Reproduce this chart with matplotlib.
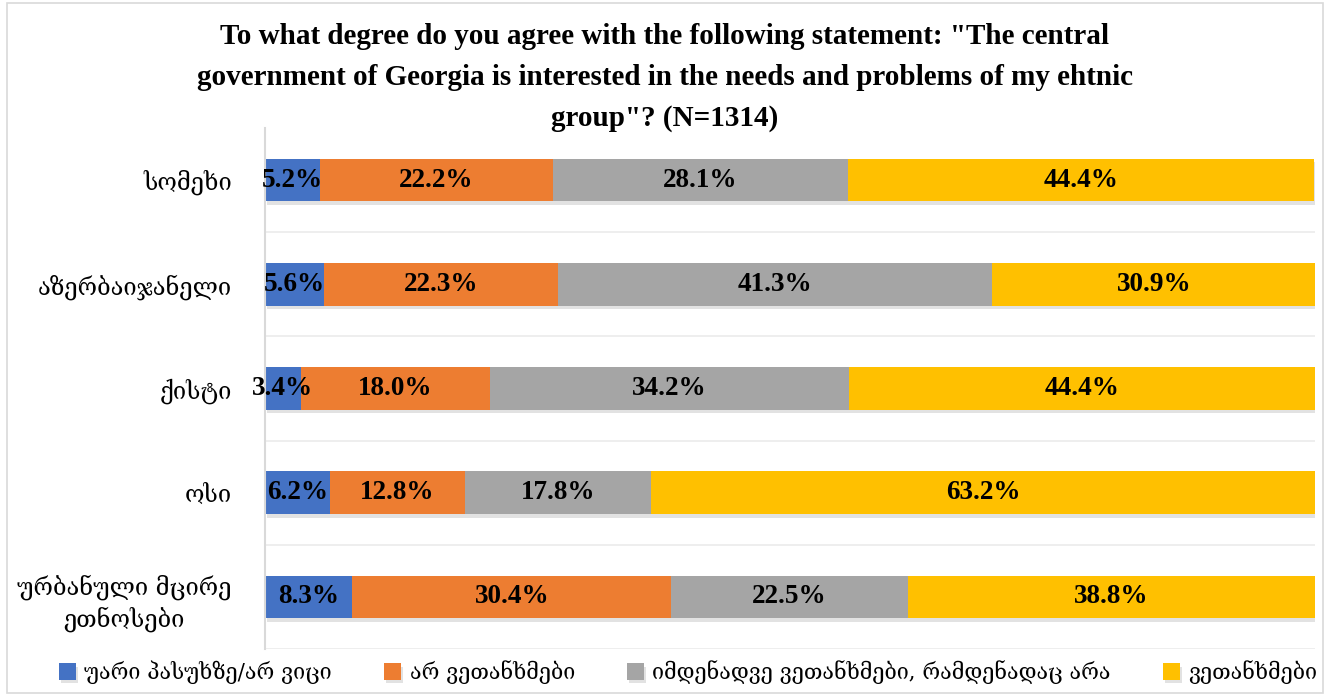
import matplotlib
matplotlib.use("Agg")
import matplotlib.pyplot as plt
import matplotlib.patheffects as pe
from matplotlib.patches import Rectangle

categories = ["სომეხი", "აზერბაიჯანელი", "ქისტი", "ოსი", "ურბანული მცირე\nეთნოსები"]
series_names = ["უარი პასუხზე/არ ვიცი", "არ ვეთანხმები",
                "იმდენადვე ვეთანხმები, რამდენადაც არა", "ვეთანხმები"]
refuse = [5.2, 5.6, 3.4, 6.2, 8.3]
disagree = [22.2, 22.3, 18.0, 12.8, 30.4]
neutral = [28.1, 41.3, 34.2, 17.8, 22.5]
agree = [44.4, 30.9, 44.4, 63.2, 38.8]
title = ('To what degree do you agree with the following statement: "The central\n'
         'government of Georgia is interested in the needs and problems of my ehtnic\n'
         'group"? (N=1314)')

colors = ["#4472C4", "#ED7D31", "#A5A5A5", "#FFC000"]
serif = ["Liberation Serif", "DejaVu Serif"]
geo = ["DejaVu Serif", "DejaVu Sans"]

fig = plt.figure(figsize=(13.3, 6.96), dpi=100)
fig.patches.append(Rectangle((0.005, 0.005), 0.99, 0.99, transform=fig.transFigure,
                             fill=False, edgecolor="#D9D9D9", linewidth=1.2))
ax = fig.add_axes([265/1330, 1 - 649/696, (1315-265)/1330, (649-128)/696])

values = [refuse, disagree, neutral, agree]
ypos = list(range(len(categories)))
left = [0.0] * len(categories)
for vals, col, name in zip(values, colors, series_names):
    bars = ax.barh(ypos, vals, left=left, height=0.41, color=col, label=name,
                   edgecolor="none")
    for b in bars:
        b.set_path_effects([pe.SimplePatchShadow(offset=(1.5, -2.5), alpha=0.15,
                                                 shadow_rgbFace="#404040"), pe.Normal()])
    for i, (l, v) in enumerate(zip(left, vals)):
        ax.text(l + v / 2, i, f"{v:.1f}%", ha="center", va="center",
                fontsize=19.5, family=serif, fontweight="bold", color="black")
    left = [a + b for a, b in zip(left, vals)]

ax.set_xlim(0, 100)
ax.set_ylim(len(categories) - 0.5, -0.5)
ax.set_yticks(ypos)
ax.set_yticklabels(categories, family=geo, fontsize=17, ha="right",
                   multialignment="center", linespacing=1.35)
ax.tick_params(axis="y", length=0, pad=24)
ax.set_xticks([])
for yb in [0.5, 1.5, 2.5, 3.5, 4.5]:
    ax.axhline(yb, color="#EBEBEB", linewidth=1.2, zorder=0)
for s in ["top", "right", "bottom"]:
    ax.spines[s].set_visible(False)
ax.spines["left"].set_color("#D9D9D9")
ax.spines["left"].set_linewidth(1.5)

fig.text(0.5, 1 - 23/696, title, ha="center", va="top", fontsize=21, family=serif,
         fontweight="bold", linespacing=1.66)

leg = fig.legend(loc="center", bbox_to_anchor=(688/1330, 1 - 672/696), ncol=4,
                 frameon=False, prop={"family": geo, "size": 15.5},
                 handlelength=0.8, handleheight=0.8, handletextpad=0.4,
                 columnspacing=2.4)

fig.savefig("out.png", dpi=100)
